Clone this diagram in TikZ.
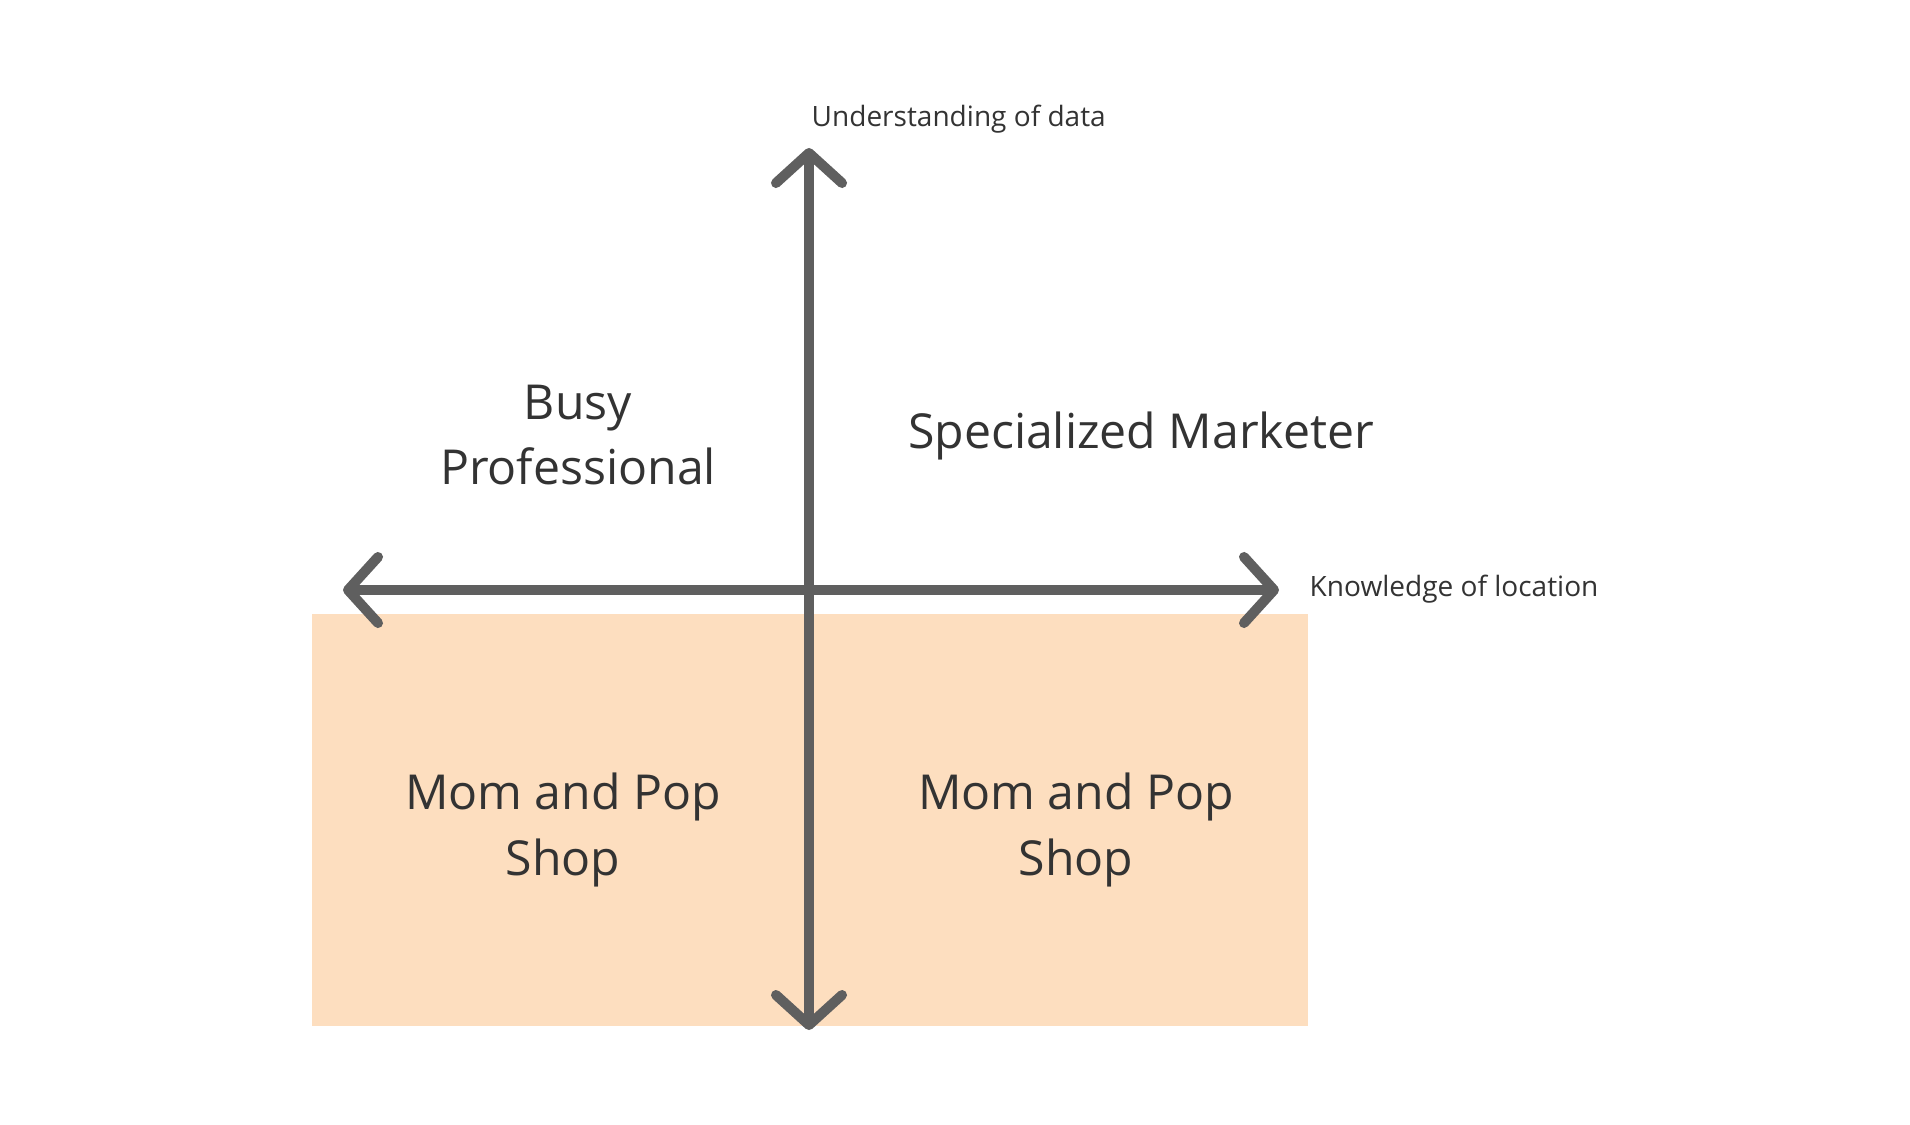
\documentclass[tikz,border=0pt]{standalone}
\usepackage{fontspec}
\setmainfont{Open Sans}
\usepackage{tikz}
\usetikzlibrary{arrows.meta}
\definecolor{axisgray}{HTML}{5F5F5F}
\definecolor{peach}{HTML}{FDDEBF}
\definecolor{ink}{HTML}{333333}
\tikzset{
	axis/.style={draw=axisgray, line width=1mm, line cap=round,
		arrows={Straight Barb[length=3mm, width=6.6mm, line cap=round, line join=round]-Straight Barb[length=3mm, width=6.6mm, line cap=round, line join=round]}},
	big/.style={text=ink, inner sep=0pt, align=center, font=\fontsize{13.7}{18.7}\selectfont},
	small/.style={text=ink, inner sep=0pt, font=\fontsize{7.97}{9.5}\selectfont}
}

\begin{document}
\begin{tikzpicture}[x=0.01cm, y=-0.01cm]
	\useasboundingbox (0,0) rectangle (1910,1124);
	\fill[peach] (312,614) rectangle (1308,1026);
	\coordinate (west) at (343,590);
	\coordinate (east) at (1279,590);
	\coordinate (north) at (809,148);
	\coordinate (south) at (809,1030);
	\draw[axis] (west) -- (east);
	\draw[axis] (south) -- (north);
	\node[small, anchor=base west] (ylabel) at (811,126) {Understanding of data};
	\node[small, anchor=base west] (xlabel) at (1309,596) {Knowledge of location};
	\node[big] (busy) at (578,435) {Busy\\Professional};
	\node[big, anchor=base] (marketer) at (1141,448) {Specialized Marketer};
	\node[big] (shopleft) at (563,830) {Mom and Pop\\Shop};
	\node[big] (shopright) at (1076,830) {Mom and Pop\\Shop};
\end{tikzpicture}
\end{document}
